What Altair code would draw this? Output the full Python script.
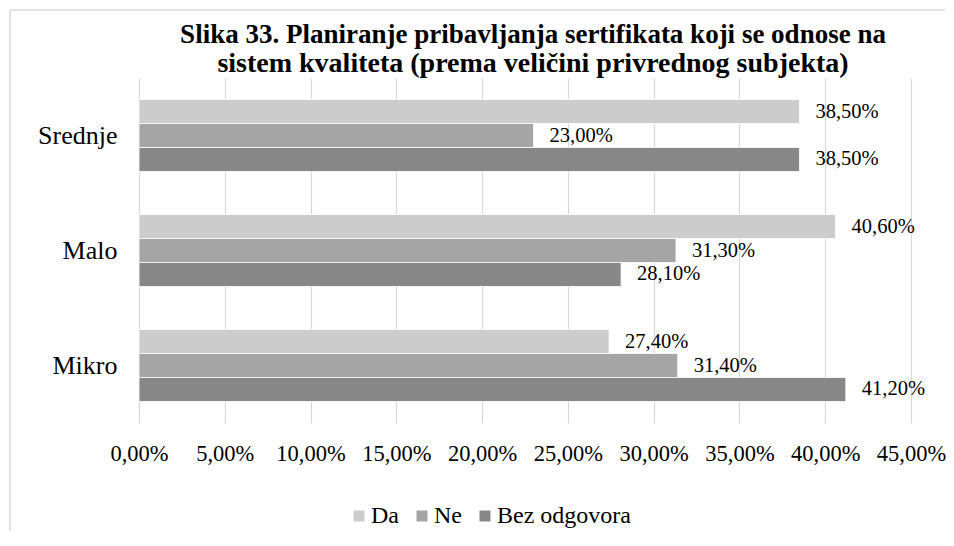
import altair as alt
import pandas as pd

categories = ["Srednje", "Malo", "Mikro"]
series = ["Da", "Ne", "Bez odgovora"]
da = [38.5, 40.6, 27.4]
ne = [23.0, 31.3, 31.4]
bez = [38.5, 28.1, 41.2]
colors = ["#cccccc", "#a5a5a5", "#878787"]
x_ticks = [0, 5, 10, 15, 20, 25, 30, 35, 40, 45]
title_line1 = "Slika 33. Planiranje pribavljanja sertifikata koji se odnose na"
title_line2 = "sistem kvaliteta (prema veličini privrednog subjekta)"

rows = []
for i, c in enumerate(categories):
    for s, vals in zip(series, [da, ne, bez]):
        rows.append({"kategorija": c, "serija": s, "vrednost": vals[i]})
df = pd.DataFrame(rows)

FONT = "Liberation Serif"
W, H = 772, 345

base = alt.Chart(df).encode(
    y=alt.Y("kategorija:N", sort=categories, title=None,
            scale=alt.Scale(paddingInner=0.374, paddingOuter=0.187),
            axis=alt.Axis(labelFontSize=26, labelFont=FONT, labelColor="#000000",
                          labelPadding=22, ticks=False, domain=False)),
    yOffset=alt.YOffset("serija:N", sort=series,
                        scale=alt.Scale(paddingInner=0, paddingOuter=0)),
)

bars = base.mark_bar(stroke="#ffffff", strokeWidth=0.8).encode(
    x=alt.X("vrednost:Q", title=None,
            scale=alt.Scale(domain=[0, 45], nice=False),
            axis=alt.Axis(values=x_ticks, grid=True, gridColor="#d9d9d9", gridWidth=1.2,
                          ticks=False, domain=False, labelFontSize=22.5, labelFont=FONT,
                          labelColor="#000000", labelPadding=19, labelOverlap=False,
                          labelFlush=False,
                          labelExpr="replace(format(datum.value, '.2f'), '.', ',') + '%'")),
    color=alt.Color("serija:N", sort=series,
                    scale=alt.Scale(domain=series, range=colors),
                    legend=alt.Legend(title=None, orient="none", direction="horizontal",
                                      legendX=208, legendY=426, symbolType="square",
                                      symbolSize=121, symbolStrokeWidth=0,
                                      labelFontSize=24, labelFont=FONT, labelColor="#000000",
                                      labelOffset=0, columnPadding=11)),
)

labels = base.transform_calculate(
    lbl="replace(format(datum.vrednost, '.2f'), '.', ',') + '%'"
).mark_text(align="left", baseline="middle", dx=16, font=FONT, fontSize=20.5,
            color="#000000").encode(
    x=alt.X("vrednost:Q"),
    text=alt.Text("lbl:N"),
)

frame_df = pd.DataFrame({"k": [0]})
top_line = alt.Chart(frame_df).mark_rule(color="#d9d9d9", strokeWidth=1.5).encode(
    x=alt.value(-129), x2=alt.value(806), y=alt.value(-68))
left_line = alt.Chart(frame_df).mark_rule(color="#d9d9d9", strokeWidth=1.5).encode(
    x=alt.value(-129), y=alt.value(-68), y2=alt.value(460))

chart = alt.layer(top_line, left_line, bars, labels).properties(
    width=W, height=H,
    title=alt.TitleParams(text=title_line1, subtitle=title_line2,
                          font=FONT, fontSize=27, fontWeight="bold", color="#000000",
                          subtitleFont=FONT, subtitleFontSize=28, subtitleFontWeight="bold",
                          subtitleColor="#000000", subtitlePadding=1,
                          anchor="middle", frame="group", offset=-70, dx=8),
    autosize=alt.AutoSizeParams(type="none"),
    padding={"left": 131, "top": 70, "right": 35, "bottom": 108},
).configure_view(stroke=None)

chart.save("out.html", embed_options={"renderer": "svg", "actions": False})
